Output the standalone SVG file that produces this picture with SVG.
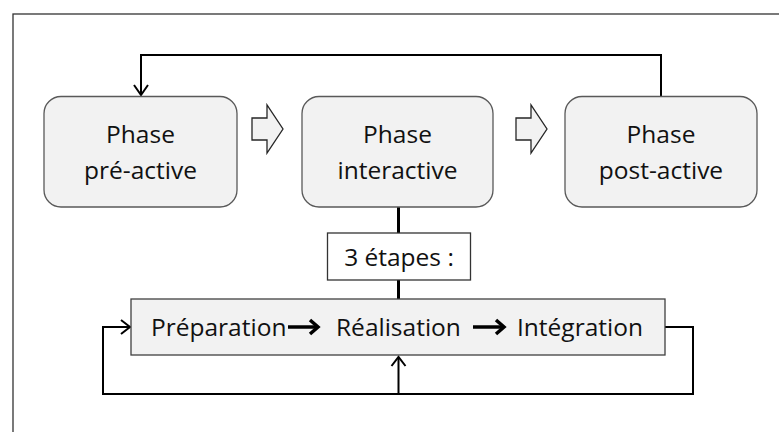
<svg xmlns="http://www.w3.org/2000/svg" width="779" height="432" viewBox="0 0 779 432">
<style>
.phase{fill:#f2f2f2;stroke:#595959;stroke-width:1.3}
.t{font-family:"Open Sans","Liberation Sans",sans-serif;font-size:24.5px;fill:#111}
.c{text-anchor:middle}
.conn{fill:none;stroke:#000;stroke-width:2}
.head{fill:none;stroke:#000;stroke-width:2}
.bar{fill:none;stroke:#000;stroke-width:3}
.block{fill:#f2f2f2;stroke:#262626;stroke-width:1.3;stroke-linejoin:miter}
.thick{fill:none;stroke:#000;stroke-width:3.5}
</style>
<rect x="13" y="14" width="800" height="450" fill="#fff" stroke="#333" stroke-width="1.3"/>
<g id="connectors">
<path class="conn" d="M661,96 V55 H141 V94"/>
<path class="head" d="M134,85 L141,95 L148,85"/>
<path class="bar" d="M398.5,207 V233"/>
<path class="bar" d="M398.5,280 V299"/>
<path class="conn" d="M665,327 H693 V394 H103 V327 H130"/>
<path class="head" d="M121,320 L130,327 L121,334"/>
<path class="conn" d="M398.5,394 V357"/>
<path class="head" d="M391.5,366 L398.5,357 L405.5,366"/>
<path class="block" d="M252,118 H267 V105 L283,129 L267,153 V140 H252 Z"/>
<path class="block" d="M516,118 H531 V105 L547,129 L531,153 V140 H516 Z"/>
</g>
<g id="phase-pre-active">
<rect class="phase" x="44" y="96.5" width="193" height="110.5" rx="17"/>
<text class="t c" x="140.5" y="143">Phase</text>
<text class="t c" x="140.5" y="179">pré-active</text>
</g>
<g id="phase-interactive">
<rect class="phase" x="302" y="96.5" width="191" height="110.5" rx="17"/>
<text class="t c" x="397.5" y="143">Phase</text>
<text class="t c" x="397.5" y="179">interactive</text>
</g>
<g id="phase-post-active">
<rect class="phase" x="565" y="96.5" width="192" height="110.5" rx="17"/>
<text class="t c" x="661" y="143">Phase</text>
<text class="t c" x="661" y="179">post-active</text>
</g>
<g id="etapes">
<rect x="327.5" y="233" width="143" height="47" fill="#fff" stroke="#333" stroke-width="1.3"/>
<text class="t c" x="399" y="266">3 étapes :</text>
</g>
<g id="steps">
<rect x="131" y="299" width="534" height="56" fill="#f2f2f2" stroke="#404040" stroke-width="1.3"/>
<text class="t" x="151" y="336">Préparation</text>
<text class="t" x="336" y="336">Réalisation</text>
<text class="t" x="517" y="336">Intégration</text>
<path class="thick" d="M288,327 H317"/>
<path class="thick" d="M310,320 L318,327 L310,334"/>
<path class="thick" d="M473,327 H503"/>
<path class="thick" d="M496,320 L504,327 L496,334"/>
</g>
</svg>
